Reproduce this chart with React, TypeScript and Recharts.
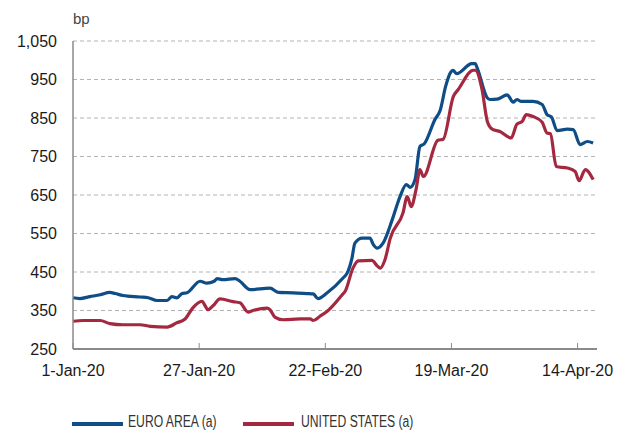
import { LineChart, Line, XAxis, YAxis, CartesianGrid } from 'recharts';

// days counted from 1-Jan-20
const euroDays = [0, 1.4, 3.5, 5.6, 7.6, 8.7, 10.3, 13.8, 15.5, 17.3, 19.4, 20.4, 21.4, 22.5, 23.5, 26.2, 27.6, 29.1, 29.7, 30.9, 33.4, 34.4, 36.5, 40.6, 42.3, 45.4, 48.2, 49.5, 50.5, 52.4, 55.7, 56.5, 57.5, 58.1, 59.6, 61.2, 61.9, 62.7, 63.9, 65.8, 67.4, 68.7, 69.5, 70.5, 71.5, 72.4, 74.6, 75.7, 76.8, 77.8, 78.3, 79.1, 82.2, 82.9, 83.3, 85.4, 86, 87.4, 89.5, 89.9, 90.7, 91.5, 92.4, 94.8, 96.7, 97.7, 98.6, 99.8, 101.9, 103.1, 104.5, 106, 107.2];
const euroBp = [383, 381, 386, 391, 397, 394, 389, 385, 383, 376, 376, 386, 383, 394, 396, 426, 421, 426, 433, 430, 433, 426, 404, 408, 397, 396, 394, 393, 381, 396, 435, 447, 486, 525, 538, 538, 521, 512, 525, 586, 646, 677, 670, 690, 776, 783, 846, 871, 932, 968, 974, 965, 991, 991, 980, 902, 898, 899, 910, 905, 891, 898, 893, 893, 885, 859, 853, 817, 821, 820, 781, 789, 785];

const usDays = [0, 2.1, 5.6, 7.6, 10.3, 13.8, 15.9, 19.4, 21.4, 23.1, 24.7, 26.6, 27.2, 27.8, 28.9, 30.3, 33, 34.4, 36.1, 37.1, 40, 40.6, 41.6, 43.3, 46.8, 48.9, 49.5, 50.9, 52.4, 55.5, 56.1, 57.7, 58.8, 61.6, 62.7, 63.3, 64.3, 65.4, 68, 68.9, 69.7, 70.7, 71.5, 72.2, 75.2, 76.3, 78.4, 79.4, 82.5, 82.9, 84.3, 85.4, 86.4, 88, 90.3, 91.5, 92.6, 93.4, 94.8, 96.7, 97.7, 98.4, 99.6, 101.9, 103.5, 104.3, 105.6, 106.2, 107.2];
const usBp = [322, 324, 324, 316, 313, 313, 309, 307, 318, 328, 357, 374, 363, 352, 363, 380, 373, 370, 346, 350, 356, 352, 333, 326, 328, 328, 324, 335, 348, 391, 400, 460, 479, 480, 466, 460, 482, 538, 603, 646, 620, 664, 716, 698, 792, 795, 906, 924, 974, 974, 924, 841, 821, 815, 798, 834, 841, 859, 854, 839, 811, 809, 724, 720, 711, 687, 716, 711, 690];

const xTickDays = [0, 26, 52, 78, 104];
const xTickLabels = ['1-Jan-20', '27-Jan-20', '22-Feb-20', '19-Mar-20', '14-Apr-20'];
const yTicks = [250, 350, 450, 550, 650, 750, 850, 950, 1050];

const BLUE = '#0f4d87';
const RED = '#a4283f';

const euroData = euroDays.map((day, i) => ({ day, value: euroBp[i] }));
const usData = usDays.map((day, i) => ({ day, value: usBp[i] }));

const tickStyle = { fontFamily: '"Liberation Sans", Arial, sans-serif', fontSize: 16, fill: '#1a1a1a' };
// no condensed font installed, so squeeze the regular one
const legendText = {
  fontFamily: '"Liberation Sans", Arial, sans-serif',
  fontSize: 16,
  color: '#333',
  lineHeight: '16px',
  whiteSpace: 'nowrap' as const,
  transform: 'scaleX(0.76)',
  transformOrigin: 'left center',
};

export default function App() {
  return (
    <div style={{ position: 'absolute', left: 0, top: 0, width: 619, height: 432, background: '#fff', overflow: 'hidden' }}>
      <div style={{ position: 'absolute', left: 73, top: 11, fontFamily: '"Liberation Sans", Arial, sans-serif', fontSize: 15, lineHeight: '15px', color: '#444' }}>bp</div>
      <LineChart width={619} height={432} margin={{ top: 41, right: 22, bottom: 43, left: 0 }}>
        <CartesianGrid vertical={false} stroke="#b3b3b3" strokeDasharray="4 3" />
        <XAxis
          type="number"
          dataKey="day"
          domain={[0, 108]}
          ticks={xTickDays}
          tickFormatter={(d: number) => xTickLabels[xTickDays.indexOf(d)]}
          height={40}
          tick={tickStyle}
          tickSize={-6}
          tickMargin={22}
          stroke="#8a8a8a"
          axisLine={{ stroke: '#8a8a8a', strokeWidth: 2 }}
          tickLine={{ stroke: '#8a8a8a', strokeWidth: 1 }}
          interval={0}
        />
        <YAxis
          type="number"
          domain={[250, 1050]}
          ticks={yTicks}
          width={73}
          tick={tickStyle}
          tickFormatter={(v: number) => v.toLocaleString('en-US')}
          tickLine={false}
          tickMargin={10}
          axisLine={{ stroke: '#8a8a8a', strokeWidth: 1.5 }}
          interval={0}
        />
        <Line data={euroData} dataKey="value" type="monotone" stroke={BLUE} strokeWidth={3.2} dot={false} isAnimationActive={false} strokeLinejoin="round" />
        <Line data={usData} dataKey="value" type="monotone" stroke={RED} strokeWidth={3.2} dot={false} isAnimationActive={false} strokeLinejoin="round" />
      </LineChart>
      <div style={{ position: 'absolute', left: 72, top: 422, width: 51, height: 4, background: BLUE }} />
      <div style={{ position: 'absolute', left: 128, top: 414, ...legendText }}>EURO AREA (a)</div>
      <div style={{ position: 'absolute', left: 243, top: 422, width: 51, height: 4, background: RED }} />
      <div style={{ position: 'absolute', left: 301, top: 414, ...legendText }}>UNITED STATES (a)</div>
    </div>
  );
}
